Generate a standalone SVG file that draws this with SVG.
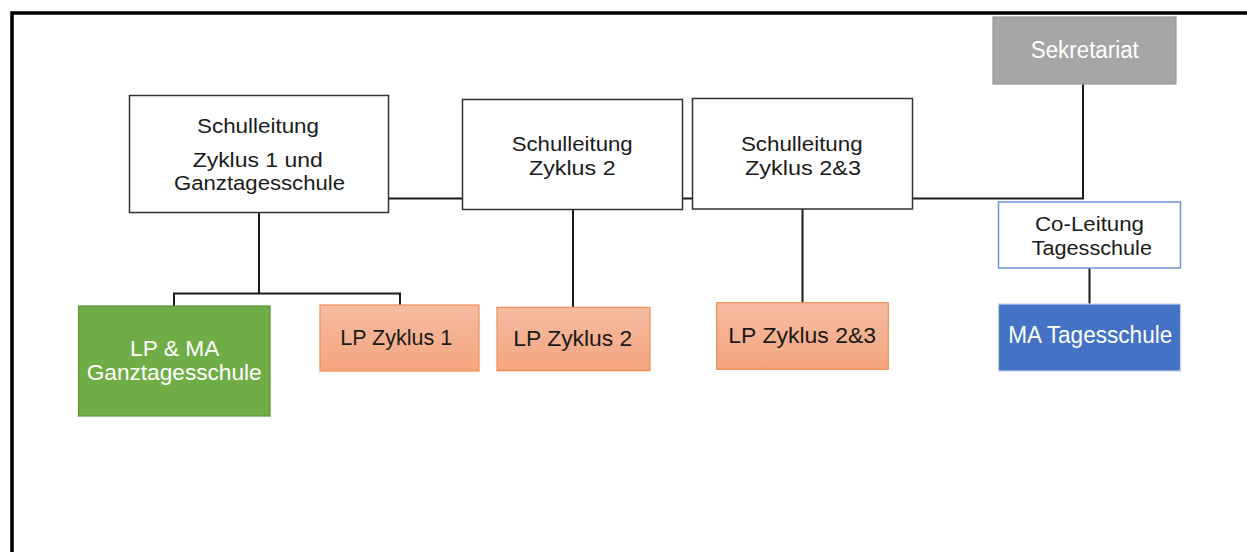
<svg xmlns="http://www.w3.org/2000/svg" width="1247" height="552" viewBox="0 0 1247 552">
<defs>
<linearGradient id="salmon" x1="0" y1="0" x2="0" y2="1">
<stop offset="0" stop-color="#f5bca2"/>
<stop offset="1" stop-color="#f4a57f"/>
</linearGradient>
<style>
.t{font-family:"Liberation Sans",Arial,sans-serif;text-anchor:middle;fill:#1a1a1a}
.w{fill:#ffffff}
.box{fill:#ffffff;stroke:#333333;stroke-width:1.5}
.lp{fill:url(#salmon);stroke:#ee8d52;stroke-width:1.2}
.conn{fill:none;stroke:#1a1a1a;stroke-width:2}
</style>
</defs>
<rect width="1247" height="552" fill="#ffffff"/>
<path d="M12 552 V13 H1247" fill="none" stroke="#000000" stroke-width="3.5"/>
<g id="connectors">
<path class="conn" d="M388 198.5 H1083 V84"/>
<path class="conn" d="M259 212 V293.5 M174 306 V293.5 H400 V305"/>
<path class="conn" d="M573 209 V307"/>
<path class="conn" d="M802.5 209 V303"/>
<path class="conn" d="M1089.5 268 V304"/>
</g>
<g id="sl1">
<rect class="box" x="129.5" y="95.5" width="259" height="117"/>
<text class="t" font-size="20.5" x="258" y="132.5" textLength="122" lengthAdjust="spacingAndGlyphs">Schulleitung</text>
<text class="t" font-size="20.5" x="257.7" y="166.5" textLength="130" lengthAdjust="spacingAndGlyphs">Zyklus 1 und</text>
<text class="t" font-size="20.5" x="259.5" y="190" textLength="171" lengthAdjust="spacingAndGlyphs">Ganztagesschule</text>
</g>
<g id="sl2">
<rect class="box" x="462.5" y="99.5" width="220" height="110"/>
<text class="t" font-size="21" x="572.2" y="150.5" textLength="121" lengthAdjust="spacingAndGlyphs">Schulleitung</text>
<text class="t" font-size="21" x="572.3" y="174.5" textLength="86.7" lengthAdjust="spacingAndGlyphs">Zyklus 2</text>
</g>
<g id="sl3">
<rect class="box" x="692.5" y="98.5" width="220" height="110.5"/>
<text class="t" font-size="21" x="801.8" y="150.5" textLength="121.7" lengthAdjust="spacingAndGlyphs">Schulleitung</text>
<text class="t" font-size="21" x="803" y="174.5" textLength="116" lengthAdjust="spacingAndGlyphs">Zyklus 2&amp;3</text>
</g>
<g id="sekretariat">
<rect x="993" y="17" width="183" height="67" fill="#a6a6a6" stroke="#969696" stroke-width="1.2"/>
<text class="t w" font-size="23" x="1084.8" y="58.3" textLength="108" lengthAdjust="spacingAndGlyphs">Sekretariat</text>
</g>
<g id="coleitung">
<rect x="998.5" y="202" width="182" height="66" fill="#ffffff" stroke="#6f93d7" stroke-width="1.5"/>
<text class="t" font-size="20.5" x="1089.5" y="230.5" textLength="109" lengthAdjust="spacingAndGlyphs">Co-Leitung</text>
<text class="t" font-size="20.5" x="1091.8" y="254.5" textLength="120.3" lengthAdjust="spacingAndGlyphs">Tagesschule</text>
</g>
<g id="ma-tagesschule">
<rect x="998.5" y="304" width="182" height="67" fill="#4472c4" stroke="#c9d4ea" stroke-width="1.2"/>
<text class="t w" font-size="23" x="1090.3" y="343.3" textLength="164" lengthAdjust="spacingAndGlyphs">MA Tagesschule</text>
</g>
<g id="lp-ma-gts">
<rect x="78.5" y="306" width="191.5" height="110" fill="#70ad47" stroke="#5a9238" stroke-width="1.2"/>
<text class="t w" font-size="22" x="174.7" y="355.7" textLength="89.3" lengthAdjust="spacingAndGlyphs">LP &amp; MA</text>
<text class="t w" font-size="22" x="174.2" y="380" textLength="175" lengthAdjust="spacingAndGlyphs">Ganztagesschule</text>
</g>
<g id="lp-z1">
<rect class="lp" x="320" y="305" width="159" height="66"/>
<text class="t" font-size="22" x="396.2" y="345" textLength="112" lengthAdjust="spacingAndGlyphs">LP Zyklus 1</text>
</g>
<g id="lp-z2">
<rect class="lp" x="497" y="307.3" width="153" height="63.4"/>
<text class="t" font-size="22" x="572.8" y="345.7" textLength="119" lengthAdjust="spacingAndGlyphs">LP Zyklus 2</text>
</g>
<g id="lp-z23">
<rect class="lp" x="716.7" y="302.7" width="171.6" height="66.6"/>
<text class="t" font-size="22" x="802.2" y="342.7" textLength="147.7" lengthAdjust="spacingAndGlyphs">LP Zyklus 2&amp;3</text>
</g>
</svg>
